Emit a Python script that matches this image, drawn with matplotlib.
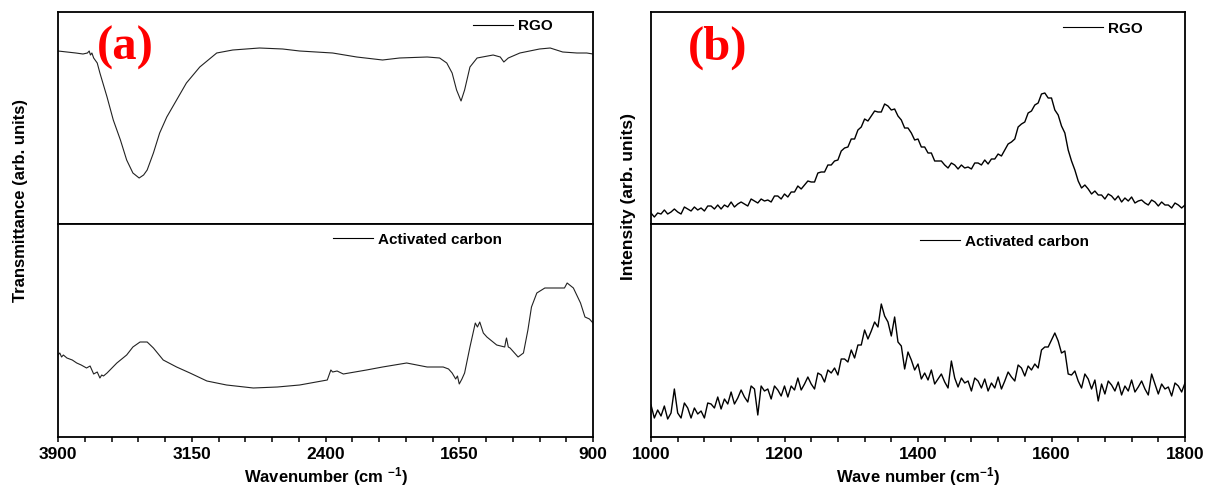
import matplotlib
matplotlib.use("Agg")
import matplotlib.pyplot as plt

plt.rcParams["font.family"] = ["Liberation Sans", "DejaVu Sans"]
plt.rcParams["font.weight"] = "bold"
plt.rcParams["axes.labelweight"] = "bold"
plt.rcParams["mathtext.fontset"] = "custom"
plt.rcParams["mathtext.bf"] = "Liberation Sans:bold"
plt.rcParams["mathtext.rm"] = "Liberation Sans:bold"
plt.rcParams["mathtext.default"] = "bf"

# ---- (a) FTIR, transmittance in arb. units
ftir_rgo_wn = [3900, 3850, 3800, 3760, 3735, 3725, 3718, 3710, 3700, 3680, 3665, 3625, 3590,
               3550, 3515, 3480, 3445, 3420, 3400, 3365, 3330, 3290, 3235, 3180, 3105, 3010,
               2920, 2770, 2640, 2545, 2360, 2225, 2080, 1985, 1830, 1760, 1720, 1690, 1665,
               1640, 1620, 1590, 1550, 1460, 1420, 1400, 1375, 1310, 1200, 1140, 1070, 990,
               935, 900]
ftir_rgo_t = [173, 172, 171, 170, 171, 173, 169, 171, 166, 161, 151, 127, 104,
              84, 64, 51, 46, 49, 54, 71, 91, 107, 124, 141, 157, 171,
              174, 176, 175, 173, 171, 167, 164, 166, 167, 166, 161, 151, 134,
              123, 134, 157, 166, 169, 167, 162, 166, 171, 175, 176, 172, 171,
              171, 170]

ftir_ac_wn = [3900, 3890, 3880, 3870, 3850, 3820, 3795, 3770, 3740, 3720, 3700, 3680, 3665,
              3655, 3645, 3625, 3570, 3515, 3480, 3440, 3400, 3365, 3310, 3235, 3160, 3065,
              2955, 2805, 2670, 2545, 2390, 2370, 2360, 2335, 2300, 2170, 2080, 1945, 1830,
              1740, 1710, 1690, 1670, 1660, 1650, 1635, 1620, 1590, 1560, 1548, 1535, 1515,
              1495, 1440, 1395, 1388, 1385, 1375, 1365, 1320, 1290, 1265, 1245, 1215, 1170,
              1095, 1060, 1045, 1010, 970, 945, 920, 900]
ftir_ac_t = [82, 84, 80, 82, 79, 77, 74, 72, 69, 71, 63, 65, 59,
             62, 61, 64, 74, 82, 90, 95, 95, 89, 77, 70, 64, 56,
             52, 49, 50, 52, 57, 67, 65, 66, 63, 67, 70, 74, 70,
             70, 68, 64, 58, 61, 53, 58, 64, 90, 114, 110, 115, 104,
             100, 92, 90, 97, 99, 90, 89, 80, 84, 107, 130, 144, 149,
             149, 149, 154, 149, 134, 120, 118, 114]

# ---- (b) Raman, intensity in arb. units, 5 cm-1 steps from 1000 to 1800
raman_wn = list(range(1000, 1801, 5))
raman_rgo = [11, 7, 11, 10, 14, 10, 12, 15, 12, 10,
             17, 15, 13, 17, 14, 16, 13, 18, 18, 15,
             19, 15, 19, 17, 22, 17, 20, 22, 20, 18,
             25, 23, 21, 25, 23, 24, 22, 28, 28, 25,
             30, 27, 32, 32, 38, 35, 39, 43, 42, 42,
             51, 52, 52, 59, 59, 63, 64, 73, 76, 77,
             85, 85, 94, 97, 105, 103, 108, 113, 112, 112,
             120, 118, 114, 115, 108, 104, 96, 96, 91, 84,
             85, 77, 77, 71, 71, 63, 63, 63, 59, 56,
             61, 59, 55, 59, 56, 57, 55, 61, 61, 59,
             64, 60, 65, 65, 70, 68, 74, 80, 82, 85,
             97, 100, 102, 111, 113, 119, 121, 130, 131, 126,
             126, 114, 109, 98, 91, 74, 63, 54, 43, 36,
             39, 35, 30, 33, 29, 29, 25, 30, 28, 24,
             28, 22, 26, 23, 27, 21, 23, 24, 21, 19,
             24, 22, 18, 22, 19, 19, 16, 21, 19, 16,
             19]
raman_ac = [32, 19, 27, 21, 31, 18, 24, 48, 24, 19,
            34, 29, 19, 29, 23, 26, 19, 34, 33, 29,
            40, 28, 38, 33, 45, 33, 39, 47, 40, 35,
            51, 48, 22, 51, 46, 48, 38, 51, 47, 41,
            51, 40, 51, 47, 59, 47, 53, 60, 53, 48,
            64, 62, 55, 67, 64, 69, 62, 78, 78, 75,
            87, 79, 92, 92, 107, 98, 106, 115, 110, 133,
            121, 115, 101, 120, 95, 91, 68, 85, 77, 67,
            73, 58, 64, 57, 67, 53, 58, 63, 55, 49,
            76, 59, 50, 59, 54, 56, 46, 59, 56, 49,
            58, 46, 54, 49, 60, 48, 56, 65, 60, 56,
            72, 69, 61, 71, 67, 73, 69, 87, 90, 90,
            97, 104, 96, 84, 86, 63, 62, 66, 56, 49,
            63, 58, 48, 57, 36, 53, 43, 56, 52, 46,
            55, 42, 51, 46, 57, 45, 50, 56, 48, 42,
            63, 53, 43, 53, 48, 50, 41, 54, 51, 45,
            54]

fig = plt.figure(figsize=(12.06, 4.91), dpi=100)

W, H = 1206.0, 491.0


def box(x0, x1, y0, y1):
    return [x0 / W, 1 - y1 / H, (x1 - x0) / W, (y1 - y0) / H]


def style(ax, bottom):
    for s in ax.spines.values():
        s.set_linewidth(1.3)
    ax.set_yticks([])
    if bottom:
        ax.tick_params(axis="x", which="both", direction="out", length=3.5, width=1.1,
                       labelsize=12.5, pad=4, top=False)
    else:
        ax.tick_params(axis="x", which="both", bottom=False, labelbottom=False)


def legend(ax, label, x, y):
    ax.plot([], [], color="black", lw=0.8, label=label)
    ax.legend(loc="upper left", bbox_to_anchor=(x, y), frameon=False, fontsize=11,
              handlelength=2.6, handletextpad=0.35, borderpad=0, borderaxespad=0)


# panel (a)
a_top = fig.add_axes(box(58, 593, 12, 224))
a_bot = fig.add_axes(box(58, 593, 224, 437), sharex=a_top)
a_top.plot(ftir_rgo_wn, ftir_rgo_t, color="#222222", lw=0.8)
a_bot.plot(ftir_ac_wn, ftir_ac_t, color="#222222", lw=0.8)
a_top.set_xlim(3900, 900)
a_top.set_ylim(0, 212)
a_bot.set_ylim(0, 213)
a_bot.set_xticks([3900, 3150, 2400, 1650, 900])
a_bot.set_xticks(list(range(3750, 900, -150)), minor=True)
style(a_top, False)
style(a_bot, True)
a_bot.set_xlabel(r"Wavenumber (cm $^{-1}$)", fontsize=12, labelpad=2)
legend(a_top, "RGO", 0.776, 0.965)
legend(a_bot, "Activated carbon", 0.514, 0.96)
a_top.text(0.125, 0.83, "(a)", transform=a_top.transAxes, color="red", fontsize=35,
           fontweight="bold", family="Liberation Serif", ha="center", va="center")

# panel (b)
b_top = fig.add_axes(box(651, 1185, 12, 224))
b_bot = fig.add_axes(box(651, 1185, 224, 437), sharex=b_top)
b_top.plot(raman_wn, raman_rgo, color="black", lw=1.0)
b_bot.plot(raman_wn, raman_ac, color="black", lw=1.0)
b_top.set_xlim(1000, 1800)
b_top.set_ylim(0, 212)
b_bot.set_ylim(0, 213)
b_bot.set_xticks([1000, 1200, 1400, 1600, 1800])
b_bot.set_xticks(list(range(1040, 1800, 40)), minor=True)
style(b_top, False)
style(b_bot, True)
b_bot.set_xlabel(r"Wave number (cm$^{-1}$)", fontsize=12, labelpad=2)
legend(b_top, "RGO", 0.772, 0.955)
legend(b_bot, "Activated carbon", 0.504, 0.95)
b_top.text(0.125, 0.83, "(b)", transform=b_top.transAxes, color="red", fontsize=35,
           fontweight="bold", family="Liberation Serif", ha="center", va="center")

fig.text(21 / W, 1 - 200 / H, "Transmittance (arb. units)", rotation=90, fontsize=12,
         ha="center", va="center")
fig.text(628 / W, 1 - 196 / H, "Intensity (arb. units)", rotation=90, fontsize=12.5,
         ha="center", va="center")

fig.savefig("out.png", dpi=100)
